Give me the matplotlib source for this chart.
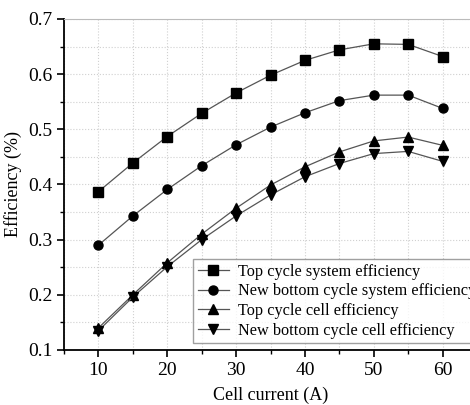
import matplotlib
matplotlib.use("Agg")
import matplotlib.pyplot as plt
from matplotlib.ticker import MultipleLocator

plt.rcParams['font.family'] = ['Liberation Serif', 'DejaVu Serif']
plt.rcParams['mathtext.fontset'] = 'stix'

current = [10, 15, 20, 25, 30, 35, 40, 45, 50, 55, 60]
top_sys = [0.387, 0.439, 0.487, 0.529, 0.566, 0.598, 0.625, 0.644, 0.655, 0.654, 0.632]
bot_sys = [0.290, 0.343, 0.391, 0.434, 0.472, 0.504, 0.530, 0.552, 0.562, 0.562, 0.538]
top_cell = [0.140, 0.200, 0.258, 0.310, 0.357, 0.399, 0.432, 0.459, 0.479, 0.486, 0.471]
bot_cell = [0.135, 0.196, 0.251, 0.300, 0.343, 0.381, 0.414, 0.438, 0.456, 0.460, 0.442]

labels = ["Top cycle system efficiency",
          "New bottom cycle system efficiency",
          "Top cycle cell efficiency",
          "New bottom cycle cell efficiency"]
markers = ['s', 'o', '^', 'v']
series = [top_sys, bot_sys, top_cell, bot_cell]

fig = plt.figure(figsize=(4.70, 4.05), dpi=100)
ax = fig.add_axes([64/470, 1-350/405, (477-64)/470, (350-19)/405])

for ys, m, lab in zip(series, markers, labels):
    ax.plot(current, ys, color='#555555', lw=0.9, marker=m, markersize=6.5,
            markerfacecolor='black', markeredgecolor='black', label=lab)

ax.set_xlim(5, 65)
ax.set_ylim(0.1, 0.7)
ax.xaxis.set_major_locator(MultipleLocator(10))
ax.xaxis.set_minor_locator(MultipleLocator(5))
ax.yaxis.set_major_locator(MultipleLocator(0.1))
ax.yaxis.set_minor_locator(MultipleLocator(0.05))
ax.yaxis.set_major_formatter(matplotlib.ticker.FormatStrFormatter('%.1f'))

ax.grid(True, which='both', color='#d0d0d0', linestyle=':', lw=0.8)
ax.set_axisbelow(True)

ax.tick_params(which='major', direction='out', length=5, width=1.2, labelsize=14)
ax.tick_params(which='minor', direction='out', length=3, width=1.0)
ax.spines['left'].set_linewidth(1.3)
ax.spines['bottom'].set_linewidth(1.3)
ax.spines['top'].set_color('#bbbbbb')
ax.spines['right'].set_color('#bbbbbb')

ax.set_xlabel("Cell current (A)", fontsize=13, labelpad=6)
ax.set_ylabel("Efficiency (%)", fontsize=13, labelpad=4)

leg = fig.legend(loc='upper left', bbox_to_anchor=(193/470, 1-259/405),
                 bbox_transform=fig.transFigure, borderaxespad=0,
                 fontsize=11.7, frameon=True, fancybox=False, edgecolor='#888888',
                 handlelength=1.9, handletextpad=0.55, borderpad=0.3,
                 labelspacing=0.22)
leg.get_frame().set_linewidth(1.0)

fig.savefig("out.png", dpi=100)
